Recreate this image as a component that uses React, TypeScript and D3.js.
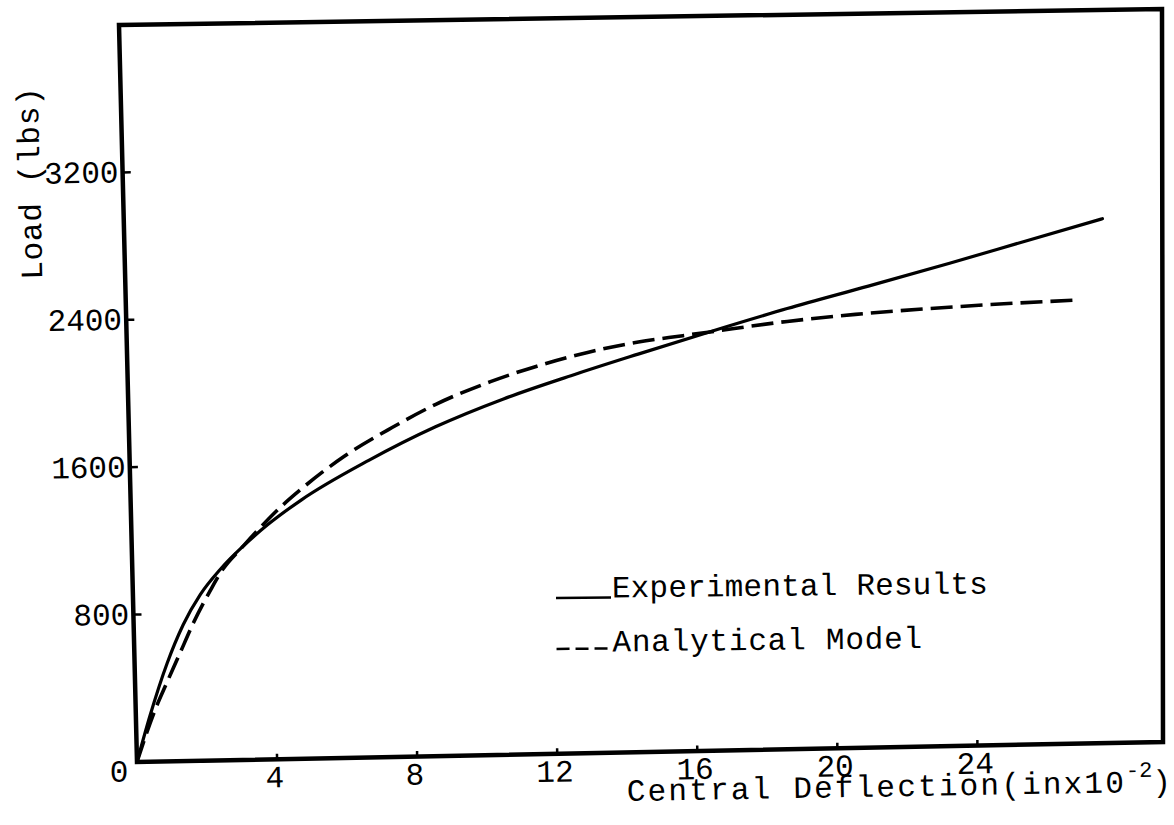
import React from "react";
import * as d3 from "d3";

// ---- data (deflection in in x10^-2, load in lbs) ----
const xTicks = [4, 8, 12, 16, 20, 24];
const yTicks = [800, 1600, 2400, 3200];

const experimentalX = [0, 0.4, 0.93, 1.41, 1.92, 2.51, 3.18, 3.88, 4.84, 6.78, 8.69, 10.63, 12.55, 14.46, 16.39, 18.69, 20.99, 23.29, 25.4, 27.61];
const experimentalY = [0, 248, 534, 740, 903, 1039, 1163, 1275, 1405, 1614, 1790, 1935, 2055, 2166, 2275, 2400, 2515, 2632, 2744, 2861];

const analyticalX = [0, 0.55, 0.9, 1.3, 1.7, 2.21, 2.51, 3.18, 3.59, 4.26, 4.85, 6.1, 7.46, 8.71, 10.27, 11.59, 13.03, 14.47, 15.73, 16.5, 18.69, 20.62, 22.52, 24.45, 26.95];
const analyticalY = [0, 280, 425, 586, 748, 925, 1020, 1163, 1245, 1370, 1465, 1640, 1790, 1912, 2030, 2110, 2180, 2232, 2262, 2280, 2330, 2362, 2385, 2403, 2420];

const legendLabels = ["Experimental Results", "Analytical Model"];

// ---- layout: scanned page is slightly skewed, frame corners on screen ----
const W = 1174;
const H = 825;
const BL: [number, number] = [137, 762];
const BR: [number, number] = [1163, 742];
const TL: [number, number] = [119, 25];
const TR: [number, number] = [1162, 9];

const xScale = d3.scaleLinear().domain([0, 29.3]).range([0, 1]);
const yScale = d3.scaleLinear().domain([0, 4000]).range([0, 1]);

function warp(x: number, y: number): [number, number] {
  const u = xScale(x);
  const v = yScale(y);
  const px = (1 - u) * (1 - v) * BL[0] + u * (1 - v) * BR[0] + (1 - u) * v * TL[0] + u * v * TR[0];
  const py = (1 - u) * (1 - v) * BL[1] + u * (1 - v) * BR[1] + (1 - u) * v * TL[1] + u * v * TR[1];
  return [px, py];
}

const FONT = "'Liberation Mono', 'DejaVu Sans Mono', monospace";
const FS = 31;
const TILT = -1;

export default function App() {
  const line = d3
    .line<[number, number]>()
    .x((d) => d[0])
    .y((d) => d[1])
    .curve(d3.curveMonotoneX);

  const expPts = experimentalX.map((x, i) => warp(x, experimentalY[i]));
  const anaPts = analyticalX.map((x, i) => warp(x, analyticalY[i]));

  const frame = `M${TL[0]},${TL[1]} L${TR[0]},${TR[1]} L${BR[0]},${BR[1]} L${BL[0]},${BL[1]} Z`;

  const origin = warp(0, 0);

  return (
    <svg
      width={W}
      height={H}
      style={{ position: "absolute", left: 0, top: 0, background: "#fff" }}
      fontFamily={FONT}
    >
      <rect x={0} y={0} width={W} height={H} fill="#fff" />
      {/* frame */}
      <path d={frame} fill="none" stroke="#000" strokeWidth={4.5} strokeLinejoin="miter" />

      {/* y ticks */}
      {yTicks.map((t) => {
        const a = warp(0, t);
        const b = warp(0.23, t);
        return (
          <g key={"yt" + t}>
            <line x1={a[0]} y1={a[1]} x2={b[0]} y2={b[1]} stroke="#000" strokeWidth={2.5} />
            <text
              x={a[0] - 4}
              y={a[1] + 10}
              textAnchor="end"
              fontSize={FS}
              fill="#000"
              transform={`rotate(${TILT} ${a[0] - 4} ${a[1] + 10})`}
            >
              {t}
            </text>
          </g>
        );
      })}

      {/* x ticks */}
      {xTicks.map((t) => {
        const a = warp(t, 0);
        const b = warp(t, 30);
        return (
          <g key={"xt" + t}>
            <line x1={a[0]} y1={a[1]} x2={b[0]} y2={b[1]} stroke="#000" strokeWidth={2.5} />
            <text
              x={a[0] - 2}
              y={a[1] + 28}
              textAnchor="middle"
              fontSize={FS}
              fill="#000"
              transform={`rotate(${TILT} ${a[0] - 2} ${a[1] + 28})`}
            >
              {t}
            </text>
          </g>
        );
      })}
      <text x={origin[0] - 18} y={origin[1] + 20} textAnchor="middle" fontSize={FS} fill="#000">
        0
      </text>

      {/* axis titles */}
      <text
        x={40}
        y={183}
        textAnchor="middle"
        fontSize={FS}
        letterSpacing={0.7}
        fill="#000"
        transform="rotate(-91.4 40 183)"
      >
        Load (lbs)
      </text>
      <text
        x={627}
        y={801}
        fontSize={FS}
        letterSpacing={2.2}
        fill="#000"
        transform={`rotate(${TILT} 627 801)`}
      >
        Central Deflection(inx10
        <tspan dy={-15} fontSize={22} letterSpacing={0}>
          -2
        </tspan>
        <tspan dy={15} letterSpacing={0}>
          )
        </tspan>
      </text>

      {/* curves */}
      <path d={line(expPts) || ""} fill="none" stroke="#000" strokeWidth={3.2} strokeLinecap="round" />
      <path
        d={line(anaPts) || ""}
        fill="none"
        stroke="#000"
        strokeWidth={3.6}
        strokeDasharray="22 8"
      />

      {/* legend */}
      <g transform={`rotate(${TILT * 0.6} 556 598)`}>
        <line x1={556} y1={598} x2={611} y2={598} stroke="#000" strokeWidth={2.5} />
        <text x={612} y={598} fontSize={FS} letterSpacing={0.2} fill="#000">
          {legendLabels[0]}
        </text>
        <line x1={556} y1={649} x2={611} y2={649} stroke="#000" strokeWidth={2.5} strokeDasharray="13 6" />
        <text x={612} y={652} fontSize={FS} letterSpacing={0.8} fill="#000">
          {legendLabels[1]}
        </text>
      </g>
    </svg>
  );
}
